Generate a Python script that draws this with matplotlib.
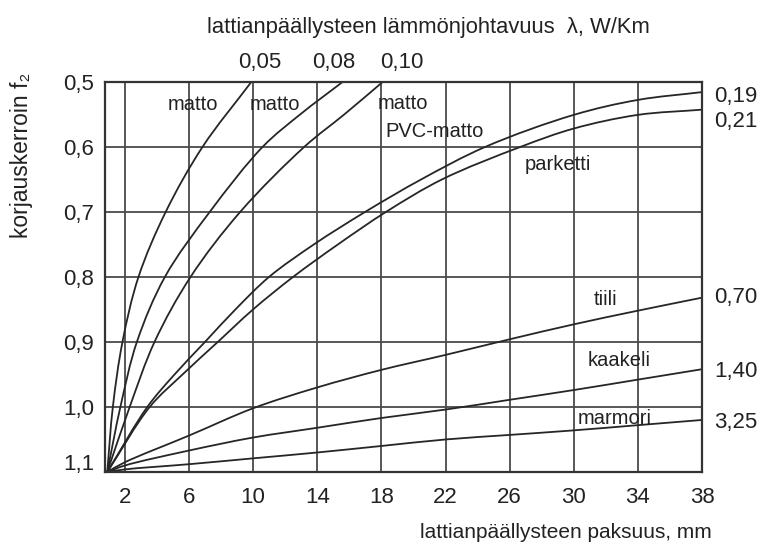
import matplotlib
matplotlib.use("Agg")
import numpy as np
import matplotlib.pyplot as plt
from matplotlib import font_manager
import matplotlib.transforms as mtransforms
from matplotlib.path import Path
from matplotlib.patches import PathPatch

# ---------------- data ----------------
x_ticks = [2, 6, 10, 14, 18, 22, 26, 30, 34, 38]
y_ticks = [0.5, 0.6, 0.7, 0.8, 0.9, 1.0, 1.1]
y_ticklabels = ["0,5", "0,6", "0,7", "0,8", "0,9", "1,0", "1,1"]

# matto, lambda 0.05
matto005_x = [0.9, 1.25, 1.85, 2.85, 4.55, 6.85, 9.9]
matto005_y = [1.1, 1.0, 0.9, 0.8, 0.7, 0.6, 0.5]
# matto, lambda 0.08
matto008_x = [0.9, 1.72, 2.75, 4.5, 7.3, 10.6, 12.95, 15.6]
matto008_y = [1.1, 1.0, 0.9, 0.8, 0.7, 0.6, 0.55, 0.5]
# matto, lambda 0.10
matto010_x = [0.9, 2.3, 3.85, 6.1, 9.2, 13.2, 15.7, 18.1]
matto010_y = [1.1, 1.0, 0.9, 0.8, 0.7, 0.6, 0.55, 0.5]
# PVC-matto, lambda 0.19
pvc_x = [0.9, 3.4, 5.1, 7.0, 8.9, 11.0, 13.8, 17.0, 20.5, 24.5, 30.0, 34.0, 38.0]
pvc_y = [1.1, 1.0, 0.95, 0.9, 0.85, 0.8, 0.75, 0.7, 0.65, 0.6, 0.551, 0.528, 0.516]
# parketti, lambda 0.21
parketti_x = [0.9, 3.55, 5.6, 7.8, 10.0, 12.5, 15.3, 18.3, 21.8, 26.7, 30.0, 34.0, 38.0]
parketti_y = [1.1, 1.0, 0.95, 0.9, 0.85, 0.8, 0.75, 0.7, 0.65, 0.6, 0.572, 0.551, 0.543]
# tiili, lambda 0.70
tiili_x = [0.9, 2, 6, 10, 14, 18, 22, 26, 30, 34, 38]
tiili_y = [1.1, 1.085, 1.044, 1.002, 0.97, 0.943, 0.92, 0.896, 0.873, 0.852, 0.832]
# kaakeli, lambda 1.40
kaakeli_x = [0.9, 2, 6, 10, 14, 18, 22, 26, 30, 34, 38]
kaakeli_y = [1.1, 1.09, 1.067, 1.047, 1.032, 1.017, 1.004, 0.989, 0.974, 0.958, 0.942]
# marmori, lambda 3.25
marmori_x = [0.9, 2, 6, 10, 14, 18, 22, 26, 30, 34, 38]
marmori_y = [1.1, 1.096, 1.088, 1.079, 1.07, 1.06, 1.05, 1.043, 1.036, 1.028, 1.02]

top_lambdas = ["0,05", "0,08", "0,10"]
right_lambdas = ["0,19", "0,21", "0,70", "1,40", "3,25"]

# ---------------- style ----------------
names = {f.name for f in font_manager.fontManager.ttflist}
fam = [n for n in ["Liberation Sans", "DejaVu Sans"] if n in names]
plt.rcParams["font.family"] = fam

LINE = "#262626"
GRID = "#4a4a4a"
TXT = "#222222"

fig = plt.figure(figsize=(7.66, 5.48), dpi=100)
ax = fig.add_axes([105 / 766, 1 - 472 / 548, 597 / 766, (472 - 81.7) / 548])

ax.set_xlim(0.76, 38)
ax.set_ylim(1.1, 0.5)

ax.set_xticks(x_ticks)
ax.set_xticklabels([str(v) for v in x_ticks], fontsize=16)
ax.set_yticks(y_ticks)
ax.set_yticklabels(y_ticklabels, fontsize=16)
ax.tick_params(length=0, pad=8, colors=TXT)
ax.tick_params(axis="x", pad=11)
# the bottom "1,1" label sits a little higher in the original
ylabs = ax.get_yticklabels()
ylabs[-1].set_transform(ylabs[-1].get_transform() +
                        mtransforms.ScaledTranslation(0, 7 / 72, fig.dpi_scale_trans))
ax.grid(True, color=GRID, linewidth=1.3)
ax.set_axisbelow(True)
for s in ax.spines.values():
    s.set_color("#333333")
    s.set_linewidth(1.6)


def smooth_curve(xs, ys):
    """Centripetal Catmull-Rom through the read points, drawn as a
    Bezier path in data coordinates."""
    sx, sy = 597 / 37.24, 390 / 0.6  # px per data unit, for spacing only
    P = np.column_stack([np.asarray(xs) * sx, np.asarray(ys) * sy])
    P = np.vstack([2 * P[0] - P[1], P, 2 * P[-1] - P[-2]])
    verts = [P[1]]
    codes = [Path.MOVETO]
    a = 0.5
    for i in range(1, len(P) - 2):
        p0, p1, p2, p3 = P[i - 1], P[i], P[i + 1], P[i + 2]
        d0 = np.linalg.norm(p1 - p0) ** a
        d1 = np.linalg.norm(p2 - p1) ** a
        d2 = np.linalg.norm(p3 - p2) ** a
        m1 = d1 * ((p1 - p0) / d0 - (p2 - p0) / (d0 + d1) + (p2 - p1) / d1)
        m2 = d1 * ((p2 - p1) / d1 - (p3 - p1) / (d1 + d2) + (p3 - p2) / d2)
        verts += [p1 + m1 / 3, p2 - m2 / 3, p2]
        codes += [Path.CURVE4] * 3
    V = np.array(verts)
    V[:, 0] /= sx
    V[:, 1] /= sy
    return Path(V, codes)


series = [
    (matto005_x, matto005_y),
    (matto008_x, matto008_y),
    (matto010_x, matto010_y),
    (pvc_x, pvc_y),
    (parketti_x, parketti_y),
    (tiili_x, tiili_y),
    (kaakeli_x, kaakeli_y),
    (marmori_x, marmori_y),
]
for xs, ys in series:
    patch = PathPatch(smooth_curve(xs, ys), facecolor="none", edgecolor=LINE,
                      linewidth=1.3, transform=ax.transData, capstyle="round")
    patch.set_clip_path(ax.patch)
    ax.add_patch(patch)

# curve names inside the plot
fs = 14.5
labels_in = [
    (6.23, 0.535, "matto"),
    (11.33, 0.535, "matto"),
    (19.35, 0.533, "matto"),
    (21.34, 0.577, "PVC-matto"),
    (29.0, 0.628, "parketti"),
    (32.0, 0.835, "tiili"),
    (32.85, 0.929, "kaakeli"),
    (32.54, 1.017, "marmori"),
]
for xv, yv, t in labels_in:
    ax.text(xv, yv, t, fontsize=fs, ha="center", va="center", color=TXT)

# lambda values at the top (above curve ends)
trans_top = mtransforms.blended_transform_factory(ax.transData, ax.transAxes)
for xv, lab in zip([10.4, 15.06, 19.3], top_lambdas):
    ax.text(xv, 1.05, lab, transform=trans_top, fontsize=16, ha="center",
            va="center", color=TXT, clip_on=False)

# lambda values at the right
ends = [pvc_y[-1], parketti_y[-1], tiili_y[-1], kaakeli_y[-1], marmori_y[-1]]
dys = [-3.5, -8.5, 0, -2, -1.5]
for yv, dy, lab in zip(ends, dys, right_lambdas):
    ax.annotate(lab, xy=(38, yv), xytext=(9, dy), textcoords="offset points",
                fontsize=16, ha="left", va="center", color=TXT,
                annotation_clip=False)

# axis titles
fig.text(428 / 766, 1 - 27 / 548,
         "lattianpäällysteen lämmönjohtavuus  λ, W/Km",
         fontsize=15.8, ha="center", va="center", color=TXT)
fig.text(712 / 766, 1 - 532 / 548, "lattianpäällysteen paksuus, mm",
         fontsize=15, ha="right", va="center", color=TXT)
fig.text(22 / 766, 1 - 155 / 548, "korjauskerroin f₂", rotation=90,
         fontsize=16.5, ha="center", va="center", color=TXT)

fig.savefig("out.png", dpi=100, facecolor="white")
